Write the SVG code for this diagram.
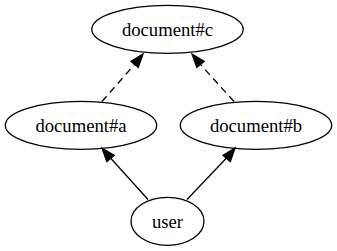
<svg xmlns="http://www.w3.org/2000/svg" width="337" height="251" viewBox="0 0 337 251">
  <style>
    .node ellipse { fill: none; stroke: #000; stroke-width: 1.3; }
    .node text { font-family: "Liberation Serif", "Times New Roman", serif; font-size: 18.67px; fill: #000; text-anchor: middle; }
    .edge line { stroke: #000; stroke-width: 1.3; }
    .edge .dashed { stroke-dasharray: 7 5; }
    .edge polygon { fill: #000; stroke: #000; stroke-width: 1.3; }
  </style>
  <rect width="337" height="251" fill="#fff"/>

  <g id="edges" class="edge">
    <!-- document#a -> document#c (dashed) -->
    <line class="dashed" x1="102" y1="101.5" x2="134.5" y2="64.5"/>
    <polygon points="143,54 138.3,67.5 131,61.3"/>
    <!-- document#b -> document#c (dashed) -->
    <line class="dashed" x1="234" y1="101.5" x2="200.5" y2="64.5"/>
    <polygon points="192,54 204.2,61.3 196.8,67.5"/>
    <!-- user -> document#a -->
    <line x1="148" y1="199.5" x2="110.5" y2="158"/>
    <polygon points="102,148 114.2,155.3 106.8,161.6"/>
    <!-- user -> document#b -->
    <line x1="187" y1="199.5" x2="226.5" y2="158"/>
    <polygon points="235,148 230.3,161.6 223,155.3"/>
  </g>

  <g id="document-c" class="node">
    <ellipse cx="167.5" cy="29.3" rx="75.7" ry="24"/>
    <text x="167.5" y="35.5">document#c</text>
  </g>
  <g id="document-a" class="node">
    <ellipse cx="81" cy="125.3" rx="75.7" ry="24"/>
    <text x="81" y="131.5">document#a</text>
  </g>
  <g id="document-b" class="node">
    <ellipse cx="256" cy="125.3" rx="75.7" ry="24"/>
    <text x="256" y="131.5">document#b</text>
  </g>
  <g id="user" class="node">
    <ellipse cx="167.5" cy="221.3" rx="36.5" ry="24"/>
    <text x="167.5" y="227.5">user</text>
  </g>
</svg>
